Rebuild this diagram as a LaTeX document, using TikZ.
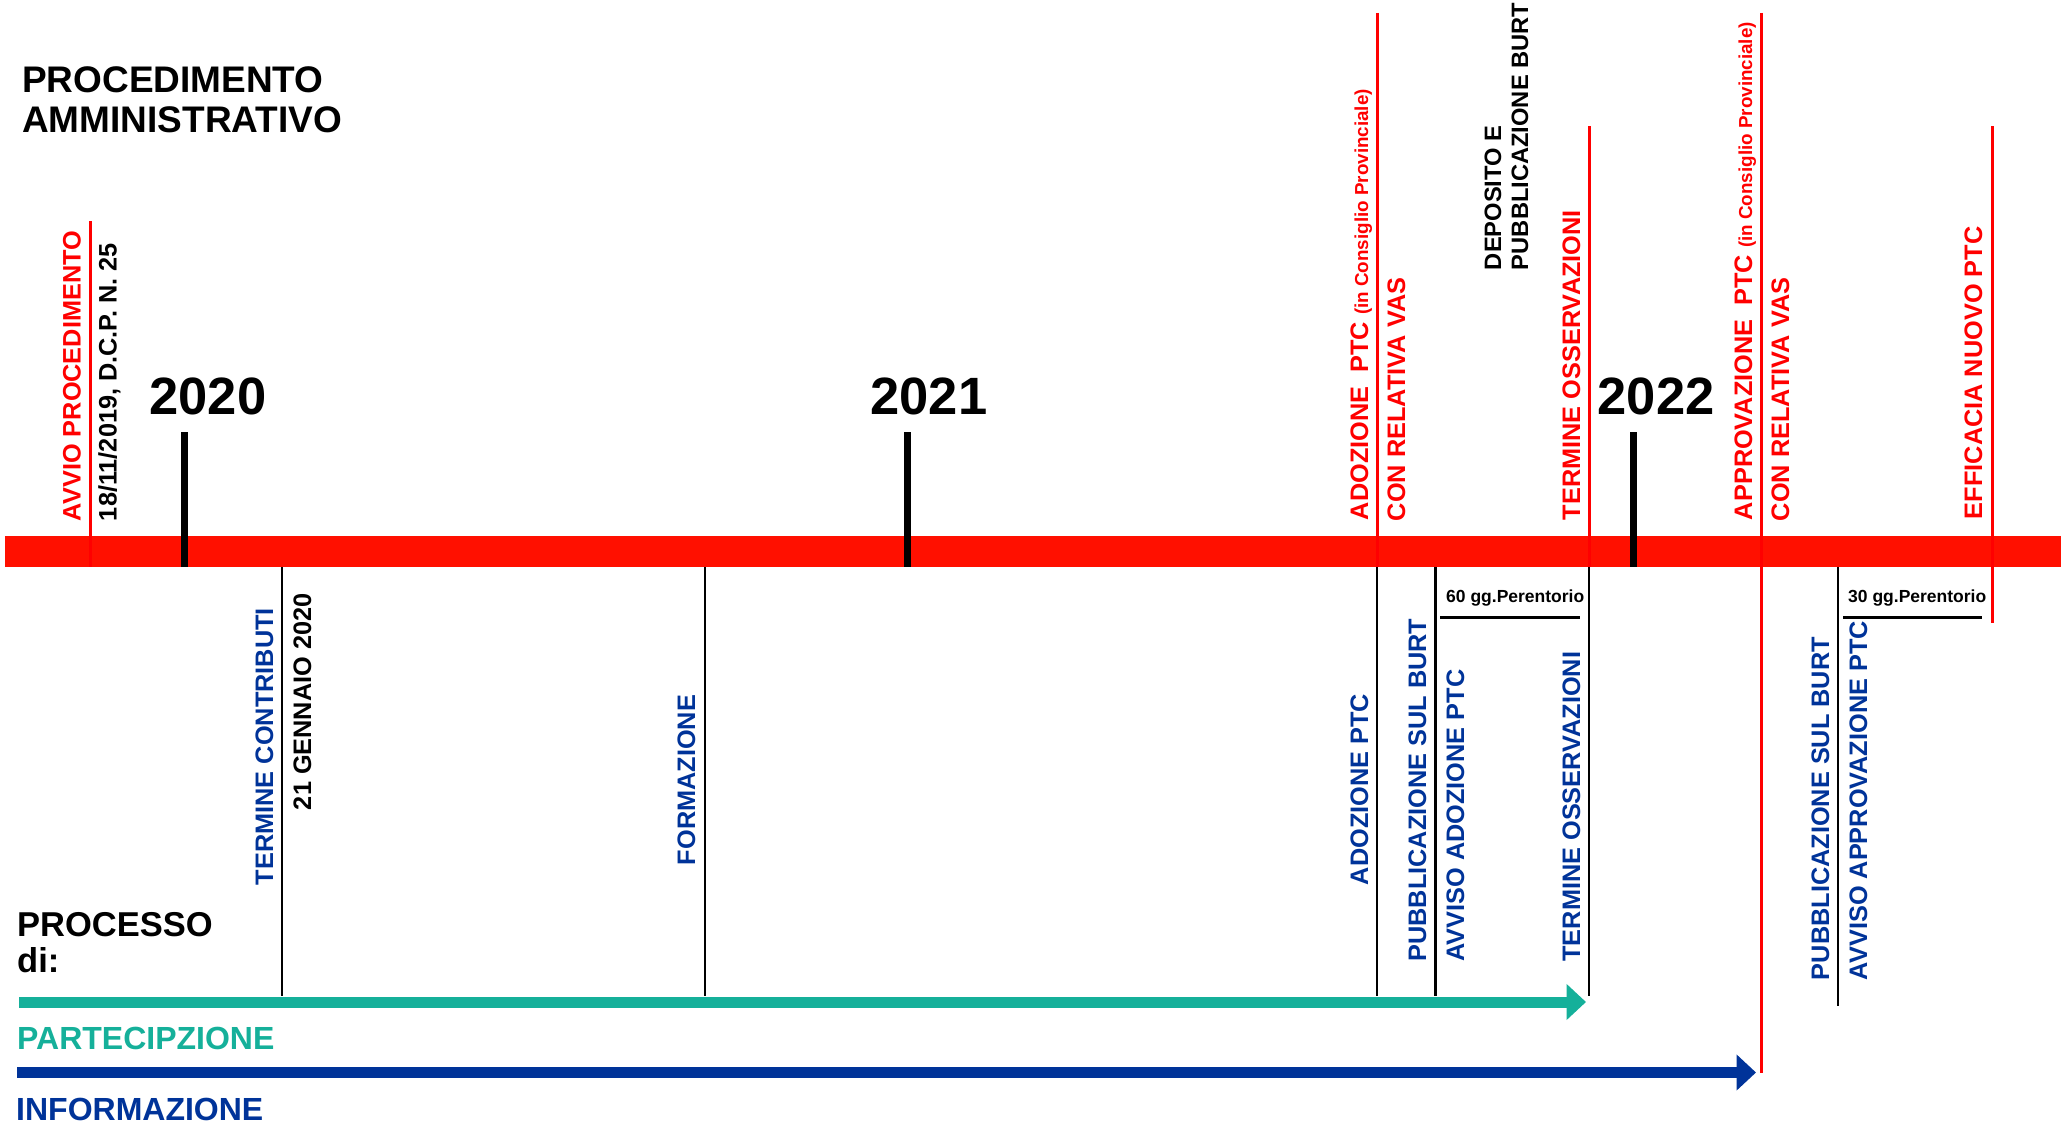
\documentclass[tikz,border=0pt]{standalone}
\usepackage{fontspec}
\setmainfont{Liberation Sans}
\usetikzlibrary{arrows.meta}
\definecolor{bandred}{RGB}{255,16,0}
\definecolor{lred}{RGB}{255,0,0}
\definecolor{tealc}{RGB}{21,176,154}
\definecolor{navyc}{RGB}{0,51,153}
\tikzset{
  vlab/.style={rotate=90, anchor=base west, inner sep=0pt, outer sep=0pt, font=\fontsize{25.3}{30}\selectfont\bfseries},
  redlab/.style={vlab, text=lred},
  blklab/.style={vlab, text=black},
  blulab/.style={vlab, text=navyc},
  deplab/.style={blklab, font=\fontsize{23.7}{27}\selectfont\bfseries},
  redline/.style={draw=lred, line width=3pt},
  blkline/.style={draw=black, line width=2.8pt},
  yeartick/.style={draw=black, line width=7pt},
  yearlab/.style={anchor=base, inner sep=0pt, font=\fontsize{52.5}{60}\selectfont\bfseries},
  headlab/.style={anchor=base west, inner sep=0pt, font=\fontsize{37}{40}\selectfont\bfseries},
  proclab/.style={anchor=base west, inner sep=0pt, font=\fontsize{34.5}{36}\selectfont\bfseries},
  flowlab/.style={anchor=base west, inner sep=0pt, font=\fontsize{32}{34}\selectfont\bfseries},
  gglab/.style={anchor=base west, inner sep=0pt, font=\fontsize{17.5}{20}\selectfont\bfseries},
}
\newcommand\smallpar[1]{{\fontsize{18.8}{20}\selectfont #1}}
\begin{document}
\begin{tikzpicture}[x=1pt,y=-1pt]
\useasboundingbox (0,0) rectangle (2067,1129);
% title
\node[headlab] (h1) at (22,92.5) {PROCEDIMENTO};
\node[headlab] (h2) at (22,133) {AMMINISTRATIVO};
% red band
\fill[bandred] (5,536) rectangle (2061,567);
% coordinates
\coordinate (avT) at (90,221);    \coordinate (avB) at (90,567);
\coordinate (adT) at (1377,13);   \coordinate (adM) at (1377,567); \coordinate (adB) at (1377,996);
\coordinate (toT) at (1589,126.5);\coordinate (toM) at (1589,567); \coordinate (toB) at (1589,996);
\coordinate (apT) at (1761,13);   \coordinate (apB) at (1761,1073);
\coordinate (efT) at (1992,126.5);\coordinate (efB) at (1992,623);
\coordinate (tcT) at (282,567);   \coordinate (tcB) at (282,996);
\coordinate (foT) at (705,567);   \coordinate (foB) at (705,996);
\coordinate (pbT) at (1435.5,567);\coordinate (pbB) at (1435.5,996);
\coordinate (paT) at (1838,567);  \coordinate (paB) at (1838,1006);
% red verticals
\draw[redline] (avT) -- (avB);
\draw[redline] (adT) -- (adM);
\draw[redline] (toT) -- (toM);
\draw[redline] (apT) -- (apB);
\draw[redline] (efT) -- (efB);
% black verticals
\draw[blkline] (adM) -- (adB);
\draw[blkline] (toM) -- (toB);
\draw[blkline] (tcT) -- (tcB);
\draw[blkline] (foT) -- (foB);
\draw[blkline] (pbT) -- (pbB);
\draw[blkline] (paT) -- (paB);
% year ticks
\coordinate (y0T) at (184.5,432); \coordinate (y0B) at (184.5,567);
\coordinate (y1T) at (907,432);   \coordinate (y1B) at (907,567);
\coordinate (y2T) at (1633,432);  \coordinate (y2B) at (1633,567);
\draw[yeartick] (y0T) -- (y0B);
\draw[yeartick] (y1T) -- (y1B);
\draw[yeartick] (y2T) -- (y2B);
\node[yearlab] (yr0) at (208,414) {2020};
\node[yearlab] (yr1) at (929,414) {2021};
\node[yearlab] (yr2) at (1656,414) {2022};
% labels above band
\node[redlab] (l1) at (80.5,521) {AVVIO PROCEDIMENTO};
\node[blklab] (l2) at (116.5,521) {18/11/2019, D.C.P. N. 25};
\node[redlab] (l3) at (1368,520) {ADOZIONE\ \ PTC \smallpar{(in Consiglio Provinciale)}};
\node[redlab] (l4) at (1405,521) {CON RELATIVA VAS};
\node[deplab] (l5a) at (1501,270) {DEPOSITO E};
\node[deplab] (l5b) at (1528,270) {PUBBLICAZIONE BURT};
\node[redlab] (l6) at (1580,520) {TERMINE OSSERVAZIONI};
\node[redlab] (l7) at (1752,520) {APPROVAZIONE\ \ PTC \smallpar{(in Consiglio Provinciale)}};
\node[redlab] (l8) at (1789,521) {CON RELATIVA VAS};
\node[redlab] (l9) at (1982,519) {EFFICACIA NUOVO PTC};
% labels below band
\node[blulab] (b1) at (273,885) {TERMINE CONTRIBUTI};
\node[blklab] (b2) at (311,810) {21 GENNAIO 2020};
\node[blulab] (b3) at (695,865) {FORMAZIONE};
\node[blulab] (b4) at (1368,885) {ADOZIONE PTC};
\node[blulab] (b5) at (1426,961.5) {PUBBLICAZIONE SUL BURT};
\node[blulab] (b6) at (1464,961.5) {AVVISO ADOZIONE PTC};
\node[blulab] (b7) at (1580,961.5) {TERMINE OSSERVAZIONI};
\node[blulab] (b8) at (1829,980) {PUBBLICAZIONE SUL BURT};
\node[blulab] (b9) at (1867,980) {AVVISO APPROVAZIONE PTC};
% perentorio
\node[gglab] (g60) at (1446,602.7) {60 gg.Perentorio};
\node[gglab] (g30) at (1848,602.7) {30 gg.Perentorio};
\coordinate (u60a) at (1440,617); \coordinate (u60b) at (1580,617);
\coordinate (u30a) at (1843,617); \coordinate (u30b) at (1982,617);
\draw[line width=3pt] (u60a) -- (u60b);
\draw[line width=3pt] (u30a) -- (u30b);
% process
\node[proclab] (p1) at (17,936) {PROCESSO};
\node[proclab] (p2) at (17,972) {di:};
\coordinate (taS) at (19,1002);   \coordinate (taE) at (1586,1002);
\coordinate (blS) at (17,1072.5); \coordinate (blE) at (1756,1072.5);
\draw[draw=tealc, line width=11pt, -{Triangle[length=19.5pt,width=35pt,fill=tealc]}] (taS) -- (taE);
\draw[draw=navyc, line width=10.5pt, -{Triangle[length=19.5pt,width=35pt,fill=navyc]}] (blS) -- (blE);
\node[flowlab, text=tealc] (fp) at (17,1049) {PARTECIPZIONE};
\node[flowlab, text=navyc] (fi) at (16,1120.5) {INFORMAZIONE};
\end{tikzpicture}
\end{document}
